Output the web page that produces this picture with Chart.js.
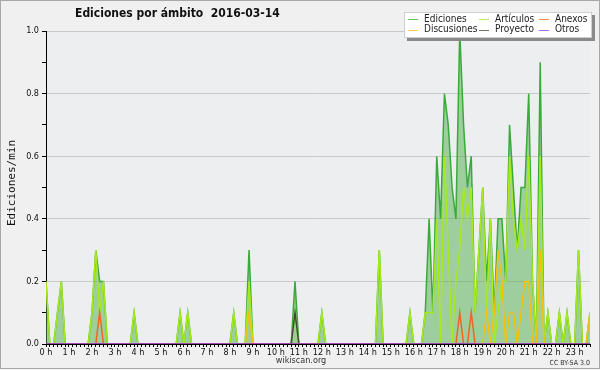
<!DOCTYPE html>
<html>
<head>
<meta charset="utf-8">
<script src="https://cdn.jsdelivr.net/npm/chart.js@4/dist/chart.umd.min.js"></script>
<style>
  html, body { margin: 0; padding: 0; background: #f0f0f0; }
  canvas { display: block; }
</style>
</head>
<body>
<canvas id="editsChart" width="600" height="370"></canvas>
<script>
// one value per 10 minute slot, in edits per minute (2016-03-14, 00:00 -> 23:40)
const slotMinutes = 10;

const ediciones = [
  0.2, 0, 0, 0.1, 0.2, 0, 0, 0, 0, 0, 0, 0,
  0.1, 0.3, 0.2, 0.2, 0, 0, 0, 0, 0, 0, 0, 0.1,
  0, 0, 0, 0, 0, 0, 0, 0, 0, 0, 0, 0.1,
  0, 0.1, 0, 0, 0, 0, 0, 0, 0, 0, 0, 0,
  0, 0.1, 0, 0, 0, 0.3, 0, 0, 0, 0, 0, 0,
  0, 0, 0, 0, 0, 0.2, 0, 0, 0, 0, 0, 0,
  0.1, 0, 0, 0, 0, 0, 0, 0, 0, 0, 0, 0,
  0, 0, 0, 0.3, 0, 0, 0, 0, 0, 0, 0, 0.1,
  0, 0, 0, 0.1, 0.4, 0.1, 0.6, 0.4, 0.8, 0.7, 0.5, 0.4,
  1.0, 0.7, 0.5, 0.6, 0.1, 0.3, 0.5, 0.2, 0.4, 0.1, 0.4, 0.4,
  0.2, 0.7, 0.5, 0.3, 0.5, 0.5, 0.8, 0.2, 0, 0.9, 0, 0.1,
  0, 0, 0.1, 0, 0.1, 0, 0, 0.3, 0, 0, 0.1
];

const articulos = [
  0.2, 0, 0, 0.1, 0.2, 0, 0, 0, 0, 0, 0, 0,
  0.1, 0.3, 0.1, 0.2, 0, 0, 0, 0, 0, 0, 0, 0.1,
  0, 0, 0, 0, 0, 0, 0, 0, 0, 0, 0, 0.1,
  0, 0.1, 0, 0, 0, 0, 0, 0, 0, 0, 0, 0,
  0, 0.1, 0, 0, 0, 0.2, 0, 0, 0, 0, 0, 0,
  0, 0, 0, 0, 0, 0.1, 0, 0, 0, 0, 0, 0,
  0.1, 0, 0, 0, 0, 0, 0, 0, 0, 0, 0, 0,
  0, 0, 0, 0.3, 0, 0, 0, 0, 0, 0, 0, 0.1,
  0, 0, 0, 0.1, 0.1, 0.1, 0.4, 0, 0.6, 0.3, 0, 0.2,
  0.3, 0.5, 0.4, 0.5, 0.1, 0.3, 0.5, 0.1, 0.4, 0, 0.1, 0.2,
  0.2, 0.6, 0.4, 0.3, 0.4, 0.3, 0.6, 0.2, 0, 0.6, 0, 0.1,
  0, 0, 0.1, 0, 0.1, 0, 0, 0.3, 0, 0, 0.1
];

const anexos = [
  0, 0, 0, 0, 0, 0, 0, 0, 0, 0, 0, 0,
  0, 0, 0.1, 0, 0, 0, 0, 0, 0, 0, 0, 0,
  0, 0, 0, 0, 0, 0, 0, 0, 0, 0, 0, 0,
  0, 0, 0, 0, 0, 0, 0, 0, 0, 0, 0, 0,
  0, 0, 0, 0, 0, 0, 0, 0, 0, 0, 0, 0,
  0, 0, 0, 0, 0, 0, 0, 0, 0, 0, 0, 0,
  0, 0, 0, 0, 0, 0, 0, 0, 0, 0, 0, 0,
  0, 0, 0, 0, 0, 0, 0, 0, 0, 0, 0, 0,
  0, 0, 0, 0, 0, 0, 0, 0, 0, 0, 0, 0,
  0.1, 0, 0, 0.1, 0, 0, 0, 0, 0, 0, 0, 0,
  0, 0, 0, 0, 0, 0, 0, 0, 0, 0, 0, 0,
  0, 0, 0, 0, 0, 0, 0, 0, 0, 0, 0
];

const discusiones = [
  0, 0, 0, 0, 0, 0, 0, 0, 0, 0, 0, 0,
  0, 0, 0, 0, 0, 0, 0, 0, 0, 0, 0, 0,
  0, 0, 0, 0, 0, 0, 0, 0, 0, 0, 0, 0,
  0, 0, 0, 0, 0, 0, 0, 0, 0, 0, 0, 0,
  0, 0, 0, 0, 0, 0.1, 0, 0, 0, 0, 0, 0,
  0, 0, 0, 0, 0, 0, 0, 0, 0, 0, 0, 0,
  0, 0, 0, 0, 0, 0, 0, 0, 0, 0, 0, 0,
  0, 0, 0, 0, 0, 0, 0, 0, 0, 0, 0, 0,
  0, 0, 0, 0, 0, 0, 0, 0, 0, 0, 0, 0,
  0, 0, 0, 0, 0, 0, 0, 0.1, 0, 0.1, 0.3, 0.2,
  0, 0.1, 0.1, 0, 0.1, 0.2, 0.2, 0, 0, 0.3, 0, 0,
  0, 0, 0, 0, 0, 0, 0, 0, 0, 0, 0.1
];

const proyecto = [
  0, 0, 0, 0, 0, 0, 0, 0, 0, 0, 0, 0,
  0, 0, 0, 0, 0, 0, 0, 0, 0, 0, 0, 0,
  0, 0, 0, 0, 0, 0, 0, 0, 0, 0, 0, 0,
  0, 0, 0, 0, 0, 0, 0, 0, 0, 0, 0, 0,
  0, 0, 0, 0, 0, 0, 0, 0, 0, 0, 0, 0,
  0, 0, 0, 0, 0, 0.1, 0, 0, 0, 0, 0, 0,
  0, 0, 0, 0, 0, 0, 0, 0, 0, 0, 0, 0,
  0, 0, 0, 0, 0, 0, 0, 0, 0, 0, 0, 0,
  0, 0, 0, 0, 0, 0, 0, 0, 0, 0, 0, 0,
  0, 0, 0, 0, 0, 0, 0, 0, 0, 0, 0, 0,
  0, 0, 0, 0, 0, 0, 0, 0, 0, 0, 0, 0,
  0, 0, 0, 0, 0, 0, 0, 0, 0, 0, 0
];

const otros = new Array(ediciones.length).fill(0);

const hourLabels = ['0 h', '1 h', '2 h', '3 h', '4 h', '5 h', '6 h', '7 h', '8 h', '9 h', '10 h', '11 h',
  '12 h', '13 h', '14 h', '15 h', '16 h', '17 h', '18 h', '19 h', '20 h', '21 h', '22 h', '23 h'];

const series = [
  { label: 'Ediciones', values: ediciones, color: '#3aab3a', fill: 'rgba(79,172,76,0.5)', order: 6 },
  { label: 'Artículos', values: articulos, color: '#a6ea1c', order: 5 },
  { label: 'Anexos', values: anexos, color: '#f0661e', order: 2 },
  { label: 'Discusiones', values: discusiones, color: '#f2c20e', order: 4 },
  { label: 'Proyecto', values: proyecto, color: '#45453a', order: 3 },
  { label: 'Otros', values: otros, color: '#9040e0', order: 1 }
];

const lastMinute = (ediciones.length - 1) * slotMinutes;
const minuteTicks = [];
for (let m = 0; m <= lastMinute; m += slotMinutes) minuteTicks.push(m);

const FONT = "'DejaVu Sans Condensed', 'DejaVu Sans', sans-serif";
Chart.defaults.font.family = FONT;

// background, frame, title, legend and footer texts
const frame = {
    id: 'frame',
    beforeDraw(chart) {
        const { ctx, chartArea: a } = chart;
        ctx.save();
        ctx.fillStyle = '#f0f0f0';
        ctx.fillRect(0, 0, chart.width, chart.height);
        ctx.fillStyle = '#edeef0';
        ctx.fillRect(a.left, a.top, a.right - a.left, a.bottom - a.top);
        ctx.strokeStyle = '#a8a8a8';
        ctx.lineWidth = 1;
        ctx.strokeRect(0.5, 0.5, chart.width - 1, chart.height - 2);
        ctx.restore();
    },
    afterDraw(chart) {
        const ctx = chart.ctx;
        ctx.save();
        ctx.fillStyle = '#111';
        ctx.textBaseline = 'middle';

        ctx.font = 'bold 12px ' + FONT;
        ctx.textAlign = 'left';
        ctx.fillText('Ediciones por ámbito  2016-03-14', 75, 14);

        ctx.save();
        ctx.translate(12, 183);
        ctx.rotate(-Math.PI / 2);
        ctx.textAlign = 'center';
        ctx.font = "11px 'DejaVu Sans Mono', monospace";
        ctx.fillText('Ediciones/min', 0, 0);
        ctx.restore();

        ctx.fillStyle = '#333';
        ctx.textAlign = 'center';
        ctx.font = '9px ' + FONT;
        ctx.fillText('wikiscan.org', 301, 361);
        ctx.textAlign = 'right';
        ctx.font = '7px ' + FONT;
        ctx.fillText('CC BY-SA 3.0', 590, 363);

        // legend box with shadow
        const box = { x: 404, y: 12, w: 188, h: 26 };
        ctx.fillStyle = '#8a8a8a';
        ctx.fillRect(box.x + 3, box.y + 3, box.w, box.h);
        ctx.fillStyle = '#ffffff';
        ctx.fillRect(box.x, box.y, box.w, box.h);
        ctx.strokeStyle = '#cfcfcf';
        ctx.strokeRect(box.x + 0.5, box.y + 0.5, box.w - 1, box.h - 1);

        const colX = [408, 479, 539];
        const rowY = [19, 29.5];
        ctx.font = '10px ' + FONT;
        ctx.textAlign = 'left';
        series.forEach((s, i) => {
            const x = colX[i % 3];
            const y = rowY[Math.floor(i / 3)];
            ctx.globalAlpha = 0.75;
            ctx.strokeStyle = s.color;
            ctx.beginPath();
            ctx.moveTo(x, Math.round(y) + 0.5);
            ctx.lineTo(x + 10, Math.round(y) + 0.5);
            ctx.stroke();
            ctx.globalAlpha = 1;
            ctx.fillStyle = '#222';
            ctx.fillText(s.label, x + 16, y);
        });
        ctx.restore();
    }
};

new Chart(document.getElementById('editsChart'), {
    type: 'line',
    data: {
        datasets: series.map(s => ({
            label: s.label,
            data: s.values.map((v, i) => ({ x: i * slotMinutes, y: v })),
            borderColor: s.color,
            backgroundColor: s.fill || s.color,
            fill: s.fill ? 'origin' : false,
            order: s.order,
            borderWidth: 1.5,
            pointRadius: 0,
            tension: 0
        }))
    },
    options: {
        responsive: false,
        animation: false,
        devicePixelRatio: 1,
        layout: { padding: { top: 31, right: 10, left: 0, bottom: 0 } },
        plugins: {
            legend: { display: false },
            tooltip: { enabled: false }
        },
        scales: {
            x: {
                type: 'linear',
                min: 0,
                max: lastMinute,
                z: 1,
                afterBuildTicks: scale => { scale.ticks = minuteTicks.map(v => ({ value: v })); },
                afterFit: scale => { scale.height = 26; },
                grid: { drawOnChartArea: false, color: '#000', tickLength: 3 },
                border: { color: '#000' },
                ticks: {
                    autoSkip: false,
                    maxRotation: 0,
                    minRotation: 0,
                    padding: 0,
                    color: '#111',
                    font: { size: 9 },
                    callback: v => v % 60 === 0 ? hourLabels[v / 60] : ''
                }
            },
            y: {
                min: 0,
                max: 1,
                afterBuildTicks: scale => {
                    const t = [];
                    for (let k = 0; k <= 10; k++) t.push({ value: k / 10 });
                    scale.ticks = t;
                },
                afterFit: scale => { scale.width = 46; },
                grid: {
                    color: c => (c.tick && c.tick.value > 0 && Math.round(c.tick.value * 10) % 2 === 0) ? '#c9c9c9' : 'rgba(0,0,0,0)',
                    tickColor: '#000',
                    tickLength: 4
                },
                border: { color: '#000' },
                ticks: {
                    padding: 3,
                    color: '#111',
                    font: { size: 9 },
                    callback: v => Math.round(v * 10) % 2 === 0 ? v.toFixed(1) : ''
                }
            }
        }
    },
    plugins: [frame]
});
</script>
</body>
</html>
